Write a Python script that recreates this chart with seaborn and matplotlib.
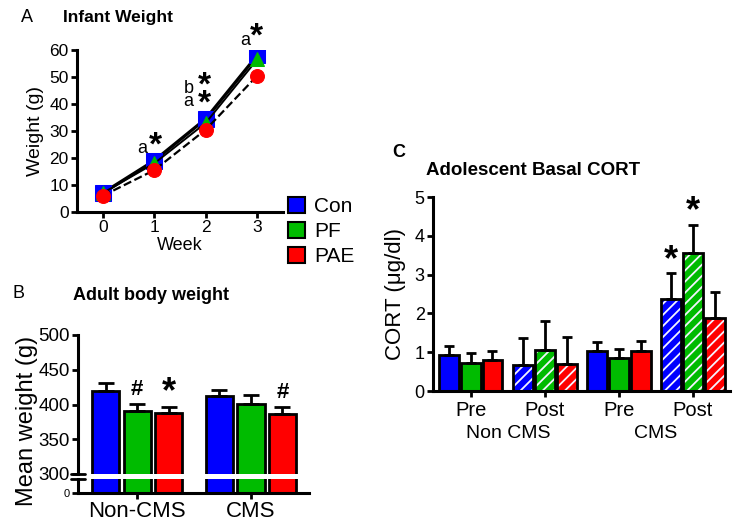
import numpy as np
import pandas as pd
import matplotlib
matplotlib.use("Agg")
import matplotlib.pyplot as plt
import seaborn as sns
from matplotlib.patches import Patch, Rectangle
from matplotlib.transforms import blended_transform_factory

# ---------------- data ----------------
treatments = ["Con", "PF", "PAE"]
colors = ["#0000ff", "#00bb00", "#ff0000"]

weeks = [0, 1, 2, 3]
infant_con = [7.0, 19.0, 34.5, 58.0]
infant_pf = [7.0, 18.0, 33.0, 56.5]
infant_pae = [6.0, 15.5, 30.5, 50.5]

adult_groups = ["Non-CMS", "CMS"]
adult_con = [420, 412]
adult_pf = [391, 401]
adult_pae = [388, 387]
adult_con_sem = [11, 9]
adult_pf_sem = [10, 12]
adult_pae_sem = [9, 10]

cort_groups = ["Pre|Non CMS", "Post|Non CMS", "Pre|CMS", "Post|CMS"]
cort_tick_labels = ["Pre", "Post", "Pre", "Post"]
cort_conditions = ["Non CMS", "CMS"]
cort_hatched = [False, True, False, True]
cort_con = [0.92, 0.66, 1.03, 2.37]
cort_pf = [0.71, 1.05, 0.84, 3.55]
cort_pae = [0.79, 0.70, 1.04, 1.88]
cort_con_sem = [0.25, 0.71, 0.23, 0.66]
cort_pf_sem = [0.27, 0.75, 0.25, 0.73]
cort_pae_sem = [0.24, 0.70, 0.24, 0.66]

# ---------------- style ----------------
sns.set_style("ticks")
plt.rcParams["font.family"] = ["Liberation Sans", "DejaVu Sans"]
plt.rcParams["axes.linewidth"] = 2.2
plt.rcParams["xtick.major.width"] = 2
plt.rcParams["ytick.major.width"] = 2
plt.rcParams["xtick.major.size"] = 4
plt.rcParams["ytick.major.size"] = 4
plt.rcParams["hatch.linewidth"] = 1.3
plt.rcParams["xtick.color"] = "black"
plt.rcParams["ytick.color"] = "black"
plt.rcParams["xtick.labelcolor"] = "black"
plt.rcParams["ytick.labelcolor"] = "black"
plt.rcParams["axes.edgecolor"] = "black"
plt.rcParams["text.color"] = "black"
plt.rcParams["axes.labelcolor"] = "black"

W, H = 740, 524
fig = plt.figure(figsize=(7.4, 5.24), dpi=100)


def rect(l, t, r, b):
    return [l / W, 1 - b / H, (r - l) / W, (b - t) / H]


# ---------------- Panel A ----------------
axA = fig.add_axes(rect(77, 50, 283, 212))
dfA = pd.DataFrame({"week": weeks * 3,
                    "weight": infant_con + infant_pf + infant_pae,
                    "treatment": np.repeat(treatments, len(weeks))})
line_styles = {"Con": ("-", 2.4, "s", 11), "PF": ("-", 1.4, "^", 10), "PAE": ("--", 1.6, "o", 10)}
for t, c in zip(treatments, colors):
    ls, lw, mk, ms = line_styles[t]
    sns.lineplot(data=dfA[dfA.treatment == t], x="week", y="weight", ax=axA,
                 color="black", linestyle=ls, linewidth=lw, marker=mk,
                 markersize=ms, markerfacecolor=c, markeredgecolor=c)
axA.set_xlim(-0.5, 3.5)
axA.set_ylim(0, 60)
axA.set_xticks(weeks)
axA.set_yticks(range(0, 61, 10))
axA.tick_params(labelsize=12.5, pad=2)
axA.set_xlabel("Week", fontsize=13, labelpad=1)
axA.set_ylabel("Weight (g)", fontsize=14, labelpad=4)
sns.despine(ax=axA)

# (week, text, dx px, dy px, fontsize, linespacing)
annA = [(1, "a", -12, 12, 13, 1.0), (1, "*", 1, 15, 24, 1.0),
        (2, "b\na", -17, 24, 13, 0.68), (2, "*\n*", -1, 24, 24, 0.45),
        (3, "a", -12, 15, 13, 1.0), (3, "*", -1, 18, 24, 1.0)]
for wk, s, dx, dy, fs, lsp in annA:
    axA.annotate(s, xy=(wk, infant_con[wk]), xytext=(dx, dy), textcoords="offset pixels",
                 ha="center", va="center", fontsize=fs, linespacing=lsp,
                 fontweight="bold" if "*" in s else "normal", annotation_clip=False)

fig.legend(handles=[Patch(facecolor=c, edgecolor="black", lw=1.5, label=t)
                    for t, c in zip(treatments, colors)],
           loc="upper left", bbox_to_anchor=(288 / W, 1 - 197 / H), frameon=False,
           fontsize=15, handlelength=0.8, handleheight=0.8, handletextpad=0.45,
           labelspacing=0.28, borderaxespad=0, borderpad=0)

# ---------------- Panel B (broken axis) ----------------
axBt = fig.add_axes(rect(78, 335, 309, 474))
axBb = fig.add_axes(rect(78, 479, 309, 493))
dfB = pd.DataFrame({"group": adult_groups * 3,
                    "treatment": np.repeat(treatments, len(adult_groups)),
                    "weight": adult_con + adult_pf + adult_pae})
semB = [adult_con_sem, adult_pf_sem, adult_pae_sem]
for ax in (axBt, axBb):
    sns.barplot(data=dfB, x="group", y="weight", hue="treatment", order=adult_groups,
                hue_order=treatments, palette=colors, saturation=1, width=0.83, gap=0.14,
                edgecolor="black", linewidth=2, errorbar=None, legend=False, ax=ax)
    ax.set_xlim(-0.52, 1.51)
    ax.set_xlabel("")
    ax.set_ylabel("")
axBt.set_ylim(300, 500)
axBb.set_ylim(0, 25)
axBt.set_yticks(range(300, 501, 50))
axBt.tick_params(axis="y", labelsize=13.5, pad=2)
axBt.tick_params(axis="x", bottom=False, labelbottom=False)
sns.despine(ax=axBt, bottom=True)
sns.despine(ax=axBb)
axBb.set_yticks([0])
axBb.tick_params(axis="y", labelsize=8, pad=2)
axBb.tick_params(axis="x", labelsize=16, pad=2)
for ax, yy in ((axBt, 0.0), (axBb, 1.0)):
    ax.plot([-0.03, 0.03], [yy, yy], transform=ax.transAxes, color="black", lw=2, clip_on=False)
axBt.set_ylabel("Mean weight (g)", fontsize=17)
axBt.yaxis.set_label_coords(-0.175, 0.38)

barsB = list(axBt.containers)
for i, cont in enumerate(barsB):
    for j, bar in enumerate(cont):
        cx = bar.get_x() + bar.get_width() / 2
        top = bar.get_height()
        axBt.errorbar(cx, top, yerr=[[0], [semB[i][j]]], fmt="none", ecolor="black",
                      elinewidth=2, capsize=6, capthick=2)
annB = [(1, 0, "#"), (2, 0, "*"), (2, 1, "#")]
for i, j, s in annB:
    bar = barsB[i][j]
    cx = bar.get_x() + bar.get_width() / 2
    top = bar.get_height() + semB[i][j]
    axBt.text(cx, top + 20, s, ha="center", va="center",
              fontsize=16 if s == "#" else 26, fontweight="bold")

# ---------------- Panel C ----------------
axC = fig.add_axes(rect(433, 197, 730, 391))
dfC = pd.DataFrame({"group": cort_groups * 3,
                    "treatment": np.repeat(treatments, len(cort_groups)),
                    "cort": cort_con + cort_pf + cort_pae})
semC = [cort_con_sem, cort_pf_sem, cort_pae_sem]
sns.barplot(data=dfC, x="group", y="cort", hue="treatment", order=cort_groups,
            hue_order=treatments, palette=colors, saturation=1, width=0.88, gap=0.08,
            edgecolor="black", linewidth=2, errorbar=None, legend=False, ax=axC)
barsC = list(axC.containers)
for i, cont in enumerate(barsC):
    for j, bar in enumerate(cont):
        if cort_hatched[j]:
            bar.set_hatch("///")
            bar.set_edgecolor("#f4f4ff")
            bar.set_linewidth(0)
            axC.add_patch(Rectangle(bar.get_xy(), bar.get_width(), bar.get_height(),
                                    fill=False, edgecolor="black", lw=2, zorder=bar.get_zorder() + 0.1))
        cx = bar.get_x() + bar.get_width() / 2
        top = bar.get_height()
        axC.errorbar(cx, top, yerr=[[0], [semC[i][j]]], fmt="none", ecolor="black",
                     elinewidth=2, capsize=3.5, capthick=2)
for i, j in [(0, 3), (1, 3)]:
    bar = barsC[i][j]
    cx = bar.get_x() + bar.get_width() / 2
    axC.text(cx, bar.get_height() + semC[i][j] + 0.33, "*", ha="center", va="center",
             fontsize=26, fontweight="bold")
axC.set_xlim(-0.51, 3.5)
axC.set_ylim(0, 5)
axC.set_yticks(range(0, 6))
axC.set_xticks(range(len(cort_groups)))
axC.set_xticklabels(cort_tick_labels)
axC.tick_params(axis="y", labelsize=13, pad=2)
axC.tick_params(axis="x", labelsize=14.5, pad=3)
axC.set_xlabel("")
axC.set_ylabel("CORT (\u03bcg/dl)", fontsize=16, labelpad=6)
sns.despine(ax=axC)
trC = blended_transform_factory(axC.transData, axC.transAxes)
for k, lab in enumerate(cort_conditions):
    axC.text(2 * k + 0.5, -0.24, lab, transform=trC, ha="center", va="baseline", fontsize=14)

# ---------------- panel letters / titles ----------------
fig.text(21 / W, 1 - 22 / H, "A", fontsize=13, va="baseline")
fig.text(63 / W, 1 - 22 / H, "Infant Weight", fontsize=12.5, fontweight="bold", va="baseline")
fig.text(13 / W, 1 - 298 / H, "B", fontsize=13, va="baseline")
fig.text(73 / W, 1 - 300 / H, "Adult body weight", fontsize=13, fontweight="bold", va="baseline")
fig.text(392 / W, 1 - 157 / H, "C", fontsize=13, fontweight="bold", va="baseline")
fig.text(426 / W, 1 - 175 / H, "Adolescent Basal CORT", fontsize=13.5, fontweight="bold", va="baseline")

fig.savefig("out.png", dpi=100)
